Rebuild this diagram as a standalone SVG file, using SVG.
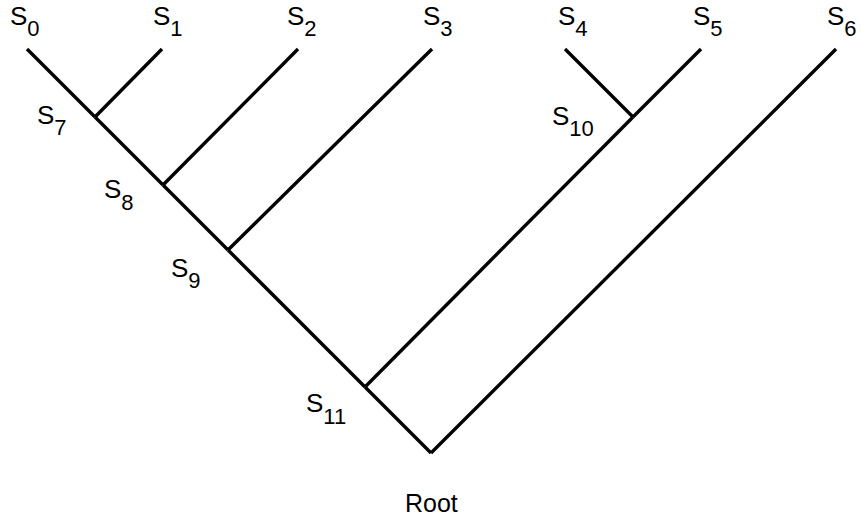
<svg xmlns="http://www.w3.org/2000/svg" width="861" height="518" viewBox="0 0 861 518">
<style>
.e{stroke:#000;stroke-width:3.4;fill:none;stroke-linecap:butt}
.l{font-family:"Liberation Sans",Arial,sans-serif;font-size:26px;fill:#000}
.s{font-size:22px}
</style>
<rect width="861" height="518" fill="#fff"/>
<g id="connectors">
<line class="e" x1="27" y1="49" x2="95" y2="117"/>
<line class="e" x1="162" y1="49" x2="95" y2="117"/>
<line class="e" x1="95" y1="117" x2="163" y2="185"/>
<line class="e" x1="298" y1="49" x2="163" y2="185"/>
<line class="e" x1="163" y1="185" x2="228" y2="250"/>
<line class="e" x1="432" y1="49" x2="228" y2="250"/>
<line class="e" x1="228" y1="250" x2="365" y2="387"/>
<line class="e" x1="565" y1="49" x2="633" y2="117"/>
<line class="e" x1="701" y1="49" x2="633" y2="117"/>
<line class="e" x1="633" y1="117" x2="365" y2="387"/>
<line class="e" x1="365" y1="387" x2="431" y2="453"/>
<line class="e" x1="836" y1="49" x2="431" y2="453"/>
</g>
<g id="s0"><text class="l" x="10" y="25">S<tspan class="s" dy="11">0</tspan></text></g>
<g id="s1"><text class="l" x="153" y="25">S<tspan class="s" dy="11">1</tspan></text></g>
<g id="s2"><text class="l" x="287" y="25">S<tspan class="s" dy="11">2</tspan></text></g>
<g id="s3"><text class="l" x="423" y="25">S<tspan class="s" dy="11">3</tspan></text></g>
<g id="s4"><text class="l" x="558" y="25">S<tspan class="s" dy="11">4</tspan></text></g>
<g id="s5"><text class="l" x="693" y="25">S<tspan class="s" dy="11">5</tspan></text></g>
<g id="s6"><text class="l" x="827" y="25">S<tspan class="s" dy="11">6</tspan></text></g>
<g id="s7"><text class="l" x="37" y="124">S<tspan class="s" dy="11">7</tspan></text></g>
<g id="s8"><text class="l" x="104" y="198">S<tspan class="s" dy="12">8</tspan></text></g>
<g id="s9"><text class="l" x="171" y="277">S<tspan class="s" dy="11">9</tspan></text></g>
<g id="s10"><text class="l" x="552" y="125">S<tspan class="s" dy="11">10</tspan></text></g>
<g id="s11"><text class="l" x="306" y="412">S<tspan class="s" dy="12">11</tspan></text></g>
<g id="root"><text class="l" x="405" y="512" style="font-size:25px">Root</text></g>
</svg>
